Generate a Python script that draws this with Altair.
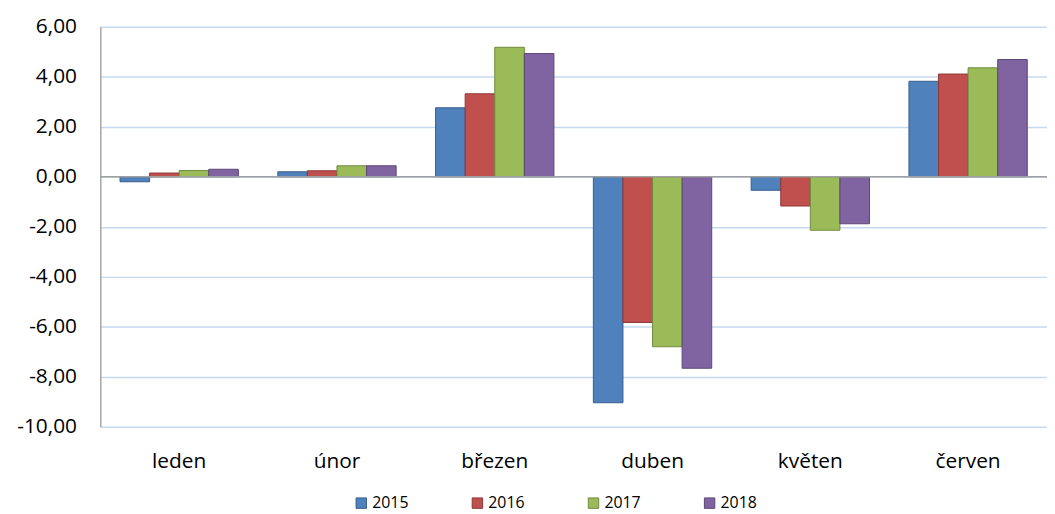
import altair as alt
import pandas as pd

months = ["leden", "únor", "březen", "duben", "květen", "červen"]
years = ["2015", "2016", "2017", "2018"]
v2015 = [-0.20, 0.20, 2.76, -9.04, -0.54, 3.82]
v2016 = [0.15, 0.24, 3.32, -5.83, -1.17, 4.11]
v2017 = [0.25, 0.44, 5.18, -6.80, -2.14, 4.36]
v2018 = [0.30, 0.44, 4.93, -7.66, -1.88, 4.69]
y_ticks = [-10, -8, -6, -4, -2, 0, 2, 4, 6]

fills = ["#4F81BD", "#C0504D", "#9BBB59", "#8064A2"]
strokes = ["#385D8A", "#8C3836", "#71893F", "#5C4776"]

rows = []
for y, vals in zip(years, [v2015, v2016, v2017, v2018]):
    for m, v in zip(months, vals):
        rows.append({"month": m, "year": y, "value": v})
df = pd.DataFrame(rows)

FONT = "Open Sans"

bars = alt.Chart(df).mark_bar(strokeWidth=1).encode(
    x=alt.X("month:N", sort=months, title=None,
            scale=alt.Scale(paddingInner=0.25, paddingOuter=0.125),
            axis=alt.Axis(domain=False, ticks=False, labelAngle=0, labelFontSize=21,
                          labelFont=FONT, labelColor="#000000", labelPadding=24,
                          grid=False)),
    xOffset=alt.XOffset("year:N", sort=years, scale=alt.Scale(paddingInner=0, paddingOuter=0)),
    y=alt.Y("value:Q", title=None,
            scale=alt.Scale(domain=[-10, 6], nice=False, zero=False),
            axis=alt.Axis(values=y_ticks, ticks=False, domain=True, domainColor="#A6A6A6",
                          domainWidth=1.5,
                          gridColor="#C6D9F0", gridWidth=1.5, labelFontSize=21, labelFont=FONT,
                          labelColor="#000000", labelPadding=24,
                          labelExpr="replace(replace(format(datum.value, '.2f'), '.', ','), '\u2212', '-')")),
    color=alt.Color("year:N", sort=years, scale=alt.Scale(domain=years, range=fills),
                    legend=alt.Legend(title=None, orient="none", direction="horizontal",
                                      legendX=255, legendY=472, symbolType="square",
                                      symbolSize=110, symbolStrokeWidth=1,
                                      symbolStrokeColor="#555555",
                                      labelFontSize=16, labelFont=FONT, labelColor="#000000",
                                      labelOffset=3, columnPadding=61)),
    stroke=alt.Stroke("year:N", sort=years, scale=alt.Scale(domain=years, range=strokes),
                      legend=None),
)

zero = alt.Chart(pd.DataFrame({"z": [0]})).mark_rule(color="#A0A0A0", strokeWidth=1.5).encode(
    y=alt.Y("z:Q")
)

chart = alt.layer(bars, zero).properties(
    width=954, height=403,
    autosize=alt.AutoSizeParams(type="none"),
    padding={"left": 93, "top": 17, "right": 0, "bottom": 86},
).configure_view(stroke=None)

chart.save("out.html", embed_options={"renderer": "svg", "actions": False})
